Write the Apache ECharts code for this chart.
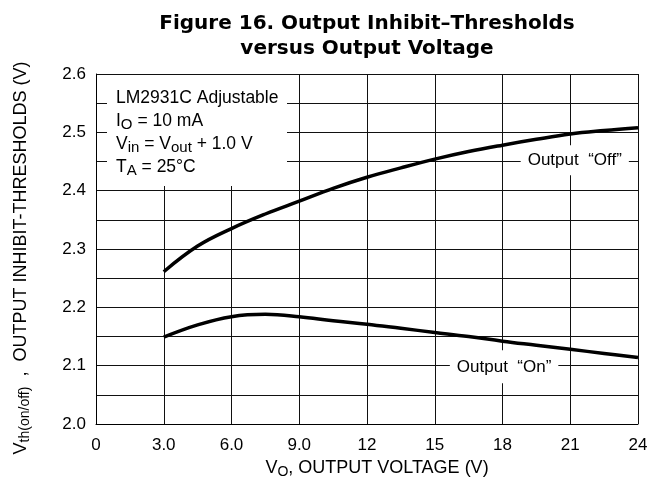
<!DOCTYPE html>
<html><head><meta charset="utf-8">
<script src="https://cdn.jsdelivr.net/npm/echarts@6/dist/echarts.min.js"></script>
<style>html,body{margin:0;padding:0;background:#fff}#c{width:665px;height:488px}</style>
</head><body><div id="c"></div>
<script>
const offX = [3, 4.5, 6, 7.5, 9, 10.5, 12, 13.5, 15, 16.5, 18, 19.5, 21, 22.5, 24];
const offY = [2.261, 2.305, 2.335, 2.360, 2.382, 2.404, 2.423, 2.439, 2.454, 2.467, 2.478, 2.488, 2.497, 2.503, 2.508];
const onX = [3, 4.5, 6, 7.5, 9, 10.5, 12, 13.5, 15, 16.5, 18, 19.5, 21, 22.5, 24];
const onY = [2.149, 2.170, 2.184, 2.188, 2.184, 2.177, 2.171, 2.164, 2.157, 2.150, 2.142, 2.135, 2.128, 2.121, 2.114];
const xTicks = ['0', '3.0', '6.0', '9.0', '12', '15', '18', '21', '24'];
const yTicks = ['2.0', '2.1', '2.2', '2.3', '2.4', '2.5', '2.6'];

const FONT = 'Liberation Sans, Arial, sans-serif';
const chart = echarts.init(document.getElementById('c'));
const lbl = (text, x, y, pad) => ({
  coord: [x, y], symbol: 'circle', symbolSize: 1, itemStyle: { color: 'rgba(0,0,0,0)' },
  label: { show: true, position: 'inside', formatter: text, color: '#000', fontSize: 17, fontFamily: FONT,
           backgroundColor: '#fff', padding: pad }
});
const richN = { fontFamily: FONT, fontSize: 18, color: '#000', lineHeight: 22, verticalAlign: 'middle' };
const richS = { fontFamily: FONT, fontSize: 14, color: '#000', lineHeight: 12, verticalAlign: 'bottom' };
chart.setOption({
  animation: false,
  backgroundColor: '#fff',
  title: {
    text: 'Figure 16. Output Inhibit\u2013Thresholds\nversus Output Voltage',
    left: 362, top: 6, textAlign: 'center',
    textStyle: { fontFamily: 'DejaVu Sans, sans-serif', fontWeight: 'bold', fontSize: 20, color: '#000', lineHeight: 25 }
  },
  grid: { left: 96, right: 27, top: 74, bottom: 64 },
  xAxis: {
    type: 'value', min: 0, max: 24, interval: 3,
    name: '{n|V}{s|O}{n|, OUTPUT VOLTAGE (V)}', nameLocation: 'middle', nameGap: 30,
    nameTextStyle: { padding: [0, 0, 0, 20], rich: { n: richN, s: richS } },
    axisLine: { show: true, lineStyle: { color: '#000', width: 1 } },
    axisTick: { show: false },
    axisLabel: { fontFamily: FONT, fontSize: 17, color: '#000', margin: 13,
                 formatter: v => xTicks[Math.round(v / 3)] },
    splitLine: { show: true, lineStyle: { color: '#111', width: 1 } }
  },
  yAxis: {
    type: 'value', min: 2.0, max: 2.6, interval: 0.05,
    name: '{n|V}{s|th(on/off)}{n|  ,  OUTPUT INHIBIT-THRESHOLDS (V)}', nameLocation: 'middle', nameGap: 64, nameRotate: 90,
    nameTextStyle: { padding: [0, 18, 0, 0], rich: { n: richN, s: richS } },
    axisLine: { show: true, lineStyle: { color: '#000', width: 1 } },
    axisTick: { show: false },
    axisLabel: { fontFamily: FONT, fontSize: 17, color: '#000', margin: 10,
                 formatter: v => { const k = Math.round(v * 100); return k % 10 === 0 ? yTicks[(k - 200) / 10] : ''; } },
    splitLine: { show: true, lineStyle: { color: '#111', width: 1 } }
  },
  graphic: [{
    type: 'rect', left: 107, top: 75, shape: { width: 180, height: 111 },
    style: { fill: '#fff' }, z: 10
  }, {
    type: 'text', left: 116, top: 89, z: 11,
    style: {
      text: '{n|LM2931C Adjustable}\n{n|I}{s|O}{n| = 10 mA}\n{n|V}{s|in}{n| = V}{s|out}{n| + 1.0 V}\n{n|T}{s|A}{n| = 25°C}',
      rich: {
        n: { fontFamily: FONT, fontSize: 17.5, fill: '#000', lineHeight: 23, verticalAlign: 'middle' },
        s: { fontFamily: FONT, fontSize: 15, fill: '#000', lineHeight: 12, verticalAlign: 'bottom' }
      }
    }
  }],
  series: [{
    type: 'line', smooth: 0.4, showSymbol: false, z: 5,
    lineStyle: { color: '#000', width: 3.5 },
    data: offX.map((x, i) => [x, offY[i]]),
    markPoint: { data: [lbl('Output  \u201COff\u201D', 21.2, 2.452, [4, 7, 9, 7])], z: 3, animation: false }
  }, {
    type: 'line', smooth: 0.4, showSymbol: false, z: 5,
    lineStyle: { color: '#000', width: 3.5 },
    data: onX.map((x, i) => [x, onY[i]]),
    markPoint: { data: [lbl('Output  \u201COn\u201D', 18.07, 2.098, [8, 7, 8, 7])], z: 3, animation: false }
  }]
});
</script></body></html>
